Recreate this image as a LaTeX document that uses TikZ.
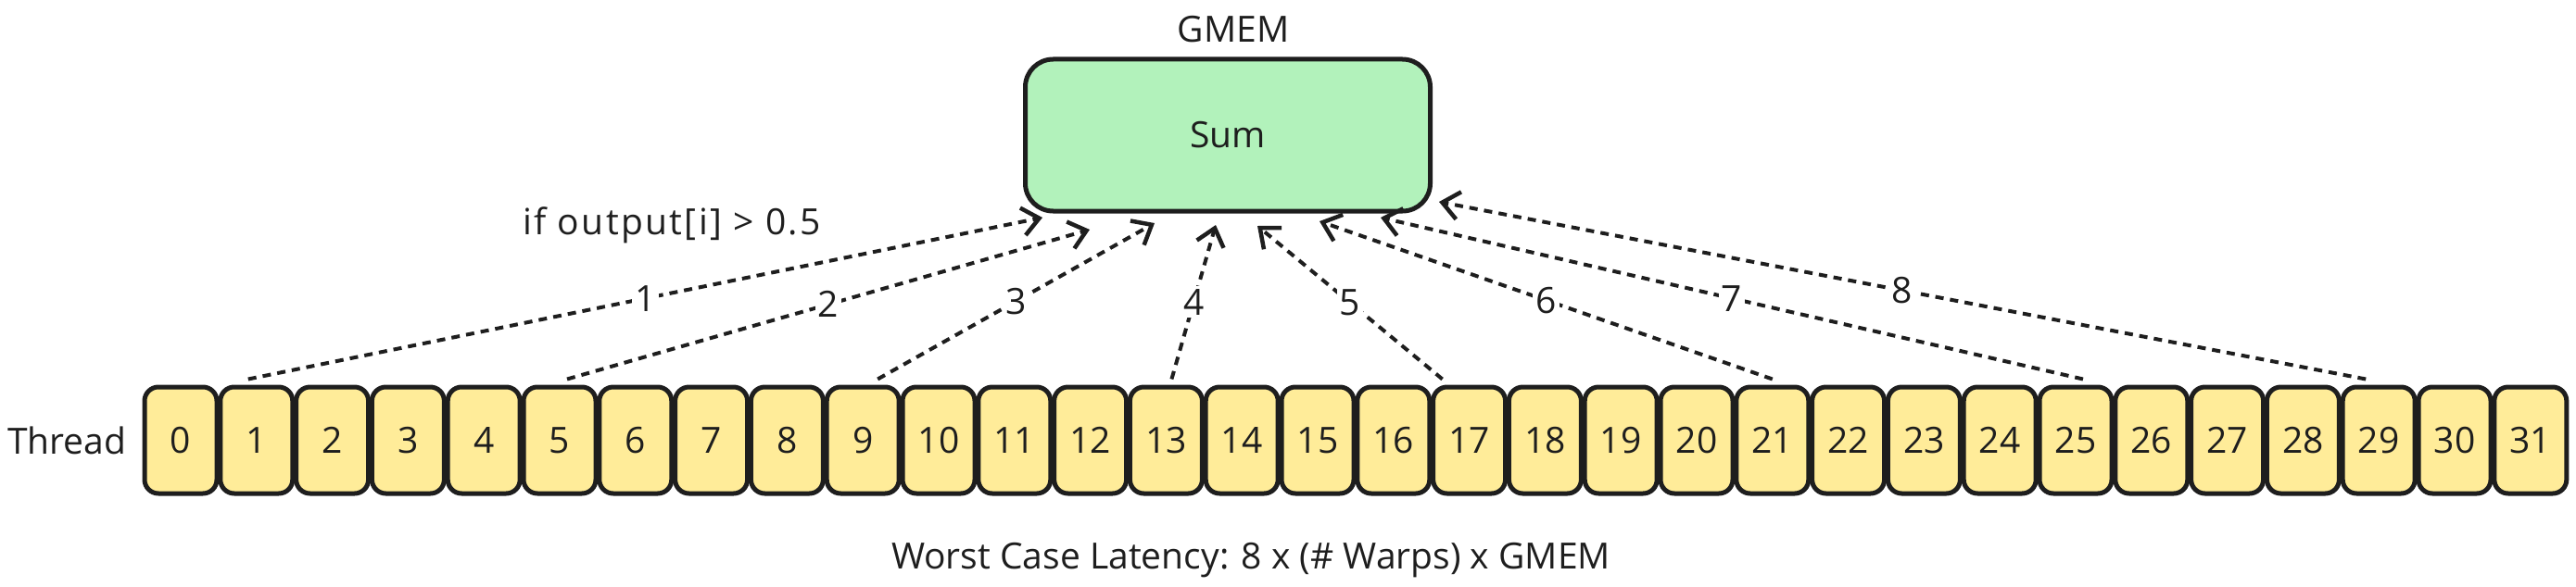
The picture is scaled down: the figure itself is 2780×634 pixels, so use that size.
\documentclass[tikz,border=0pt]{standalone}
\usepackage{fontspec}
\setmainfont{Open Sans}
\usetikzlibrary{arrows.meta}
\definecolor{ink}{HTML}{1E1E1E}
\definecolor{yel}{HTML}{FFEC99}
\definecolor{grn}{HTML}{B2F2BB}
\tikzset{
  txt/.style={font=\fontsize{39}{46}\selectfont, text=ink},
  tbox/.style={draw=ink, fill=yel, line width=5pt, rounded corners=15pt,
    minimum width=78pt, minimum height=115pt, inner sep=0pt, txt},
  sumbox/.style={draw=ink, fill=grn, line width=5pt, rounded corners=30pt,
    minimum width=437pt, minimum height=164pt, inner sep=0pt, txt},
  conn/.style={draw=ink, line width=4pt, dash pattern=on 9pt off 7pt,
    -{Straight Barb[length=18pt,width=30pt,line width=4.5pt]}},
  lbl/.style={txt, fill=white, inner sep=3pt}
}
\begin{document}
\begin{tikzpicture}[x=1pt,y=-1pt]
\useasboundingbox (0,0) rectangle (2780,634);
\node[sumbox] (sum) at (1325,146) {Sum};
\node[txt] (gmem) at (1331,32) {GMEM};
\node[txt] (cond) at (725,243) {\addfontfeature{LetterSpace=6}if output[i] > 0.5};
\node[txt, anchor=east] (thread) at (140,476) {Thread};
\foreach \k in {0,...,31}
  \node[tbox] (t\k) at ({195+81.8*\k},475.5) {\k};
\node[txt] (worst) at (1350,605) {Worst Case Latency: 8 x (\# Warps) x GMEM};
\foreach \i/\k/\dx/\ex/\ey in {1/1/-9/1125/235, 2/5/8/1176/248, 3/9/16/1246/241,
    4/13/6/1312/243, 5/17/-29/1357/244, 6/21/0/1424/239, 7/25/8/1490/235,
    8/29/-14/1553/218}{
  \coordinate (e\i) at (\ex,\ey);
  \draw[conn] ([xshift=\dx pt, yshift=6pt]t\k.north) -- node[lbl, midway] {\i} (e\i);
}
\end{tikzpicture}
\end{document}
